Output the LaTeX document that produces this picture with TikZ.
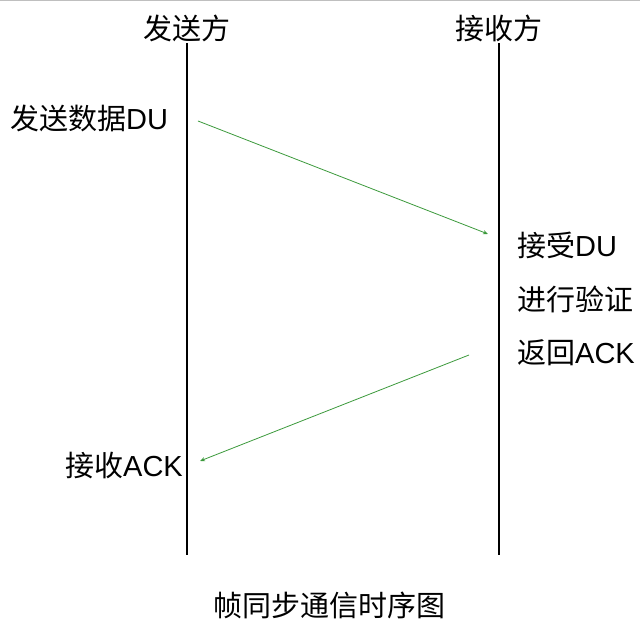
\documentclass[tikz,border=0pt]{standalone}
\usepackage{fontspec}
\setmainfont{Noto Sans CJK SC}
\newfontfamily\latn{Liberation Sans}
\usetikzlibrary{arrows.meta}
\definecolor{msgGreen}{HTML}{3C9A3C}
\begin{document}
\begin{tikzpicture}[x=1pt,y=1pt,
  lbl/.style={inner sep=0pt, font=\fontsize{29}{33}\selectfont},
  life/.style={line width=2pt, black},
  msg/.style={line width=0.8pt, msgGreen, -{Stealth[length=5pt,width=4pt]}}]
\useasboundingbox[fill=white] (0,0) rectangle (640,640);
\draw[gray!50, line width=1pt] (0,639.5) -- (640,639.5);
% headers
\node[lbl] (snd) at (187,612) {发送方};
\node[lbl] (rcv) at (499,612) {接收方};
% lifelines
\coordinate (sndTop) at (187,597);
\coordinate (sndBot) at (187,85);
\coordinate (rcvTop) at (499,597);
\coordinate (rcvBot) at (499,85);
\draw[life] (sndTop) -- (sndBot);
\draw[life] (rcvTop) -- (rcvBot);
% labels
\node[lbl, anchor=west] (sendDU) at (10,522) {发送数据{\latn DU}};
\node[lbl, anchor=west] (recvDU) at (517,395) {接受{\latn DU}};
\node[lbl, anchor=west] (verify) at (517,341) {进行验证};
\node[lbl, anchor=west] (retACK) at (517,287) {返回{\latn ACK}};
\node[lbl, anchor=east] (gotACK) at (183,174) {接收{\latn ACK}};
\node[lbl] (title) at (329,35) {帧同步通信时序图};
% messages
\coordinate (m1s) at (198,519);
\coordinate (m1e) at (488,406);
\coordinate (m2s) at (469,285);
\coordinate (m2e) at (200,179);
\draw[msg] (m1s) -- (m1e);
\draw[msg] (m2s) -- (m2e);
\end{tikzpicture}
\end{document}
